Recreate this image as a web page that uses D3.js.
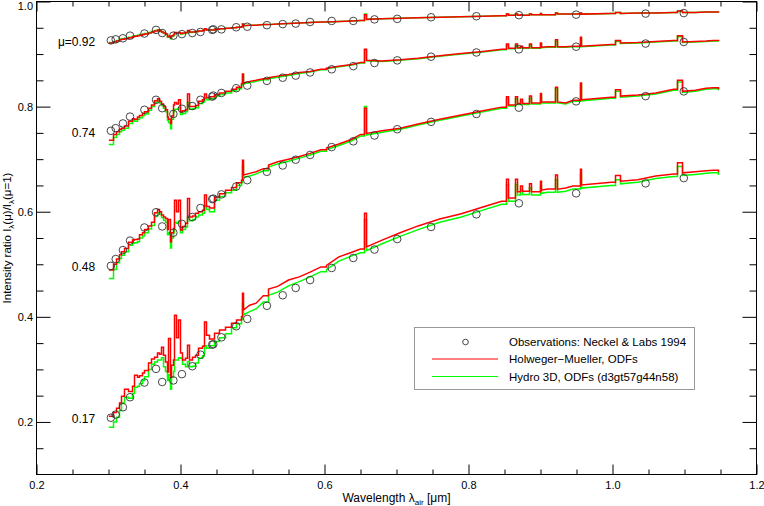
<!DOCTYPE html>
<html><head><meta charset="utf-8">
<script src="https://cdn.jsdelivr.net/npm/d3@7/dist/d3.min.js"></script>
<style>
body{margin:0;background:#fff;}
svg{display:block;font-family:"Liberation Sans",Arial,Helvetica,sans-serif;}
</style></head>
<body><svg id="chart" width="764" height="506"></svg>
<script>
// ---------- data ----------
const lambdaGrid = [0.3005,0.306,0.310,0.314,0.318,0.322,0.327,0.332,0.336,0.339,
0.342,0.346,0.350,0.355,0.359,0.363,0.367,0.3705,0.373,0.3755,
0.378,0.381,0.383,0.385,0.387,0.389,0.3915,0.394,0.3965,0.399,
0.402,0.406,0.4095,0.412,0.416,0.420,0.425,0.430,0.4325,0.435,
0.440,0.446,0.454,0.462,0.470,0.477,0.4835,0.4850,0.4875,0.496,
0.505,0.515,0.522,0.535,0.550,0.565,0.580,0.595,0.602,0.620,
0.638,0.650,0.6553,0.6578,0.680,0.705,0.730,0.760,0.790,0.820,
0.846,0.8525,0.8543,0.8650,0.8668,0.8722,0.8740,0.8847,0.8865,0.8990,
0.9008,0.910,0.9208,0.9226,0.935,0.945,0.9546,0.9564,0.998,1.003,
1.011,1.035,1.060,1.085,1.0895,1.0965,1.115,1.130,1.140,1.147];

const hm092 = [0.921,0.923,0.925,0.927,0.928,0.929,0.931,0.933,0.934,0.935,
0.936,0.937,0.938,0.940,0.942,0.944,0.946,0.944,0.942,0.940,
0.938,0.933,0.934,0.931,0.935,0.937,0.941,0.940,0.941,0.939,
0.940,0.941,0.945,0.942,0.942,0.943,0.944,0.945,0.948,0.946,
0.946,0.947,0.948,0.949,0.950,0.951,0.952,0.957,0.954,0.955,
0.955,0.956,0.956,0.957,0.958,0.959,0.960,0.961,0.961,0.962,
0.963,0.964,0.975,0.966,0.967,0.968,0.969,0.970,0.971,0.972,
0.973,0.976,0.974,0.976,0.974,0.975,0.974,0.976,0.975,0.977,
0.975,0.975,0.978,0.976,0.976,0.976,0.978,0.976,0.977,0.979,
0.977,0.978,0.978,0.979,0.982,0.979,0.979,0.980,0.980,0.979];
const hy092 = [0.922,0.924,0.926,0.928,0.929,0.930,0.932,0.934,0.935,0.936,
0.937,0.938,0.939,0.941,0.943,0.945,0.946,0.944,0.942,0.940,
0.937,0.932,0.932,0.929,0.934,0.936,0.939,0.939,0.940,0.938,
0.939,0.940,0.943,0.941,0.942,0.943,0.944,0.945,0.947,0.946,
0.946,0.947,0.948,0.949,0.950,0.951,0.952,0.957,0.954,0.955,
0.955,0.956,0.956,0.957,0.958,0.959,0.960,0.961,0.961,0.962,
0.963,0.964,0.976,0.966,0.967,0.968,0.969,0.970,0.971,0.972,
0.973,0.976,0.974,0.976,0.974,0.975,0.974,0.976,0.975,0.977,
0.975,0.975,0.978,0.976,0.976,0.976,0.978,0.976,0.977,0.979,
0.977,0.978,0.978,0.979,0.982,0.979,0.979,0.980,0.980,0.979];

const hm074 = [0.736,0.747,0.752,0.757,0.759,0.763,0.772,0.777,0.776,0.780,
0.783,0.787,0.790,0.797,0.803,0.811,0.815,0.810,0.805,0.800,
0.794,0.780,0.776,0.768,0.782,0.803,0.808,0.805,0.813,0.790,
0.792,0.794,0.824,0.800,0.800,0.802,0.810,0.813,0.824,0.817,
0.819,0.823,0.826,0.829,0.833,0.837,0.844,0.862,0.845,0.848,
0.850,0.853,0.855,0.858,0.861,0.865,0.867,0.871,0.873,0.877,
0.880,0.884,0.909,0.888,0.887,0.889,0.892,0.897,0.901,0.905,
0.909,0.919,0.911,0.919,0.912,0.915,0.912,0.919,0.912,0.921,
0.913,0.914,0.927,0.914,0.914,0.915,0.932,0.915,0.918,0.926,
0.921,0.922,0.924,0.926,0.935,0.923,0.924,0.925,0.926,0.925];
const hy074 = [0.728,0.741,0.747,0.752,0.755,0.759,0.768,0.773,0.772,0.776,
0.779,0.783,0.786,0.793,0.800,0.808,0.812,0.807,0.802,0.797,
0.790,0.774,0.770,0.758,0.776,0.790,0.795,0.795,0.798,0.785,
0.787,0.790,0.808,0.795,0.796,0.798,0.806,0.809,0.816,0.813,
0.815,0.820,0.823,0.826,0.830,0.834,0.841,0.860,0.843,0.846,
0.848,0.851,0.853,0.856,0.859,0.863,0.866,0.870,0.872,0.876,
0.879,0.883,0.908,0.887,0.886,0.888,0.891,0.896,0.900,0.904,
0.908,0.917,0.910,0.917,0.911,0.913,0.911,0.917,0.911,0.919,
0.912,0.913,0.925,0.913,0.913,0.914,0.930,0.914,0.917,0.924,
0.920,0.921,0.923,0.925,0.933,0.922,0.923,0.924,0.925,0.924];

const hm048 = [0.489,0.500,0.510,0.518,0.524,0.530,0.542,0.546,0.547,0.548,
0.556,0.560,0.566,0.573,0.580,0.598,0.604,0.600,0.594,0.590,
0.587,0.566,0.585,0.543,0.560,0.568,0.622,0.600,0.622,0.565,
0.572,0.578,0.625,0.590,0.592,0.597,0.600,0.603,0.632,0.610,
0.607,0.628,0.634,0.641,0.646,0.655,0.660,0.698,0.670,0.673,
0.676,0.682,0.689,0.695,0.700,0.705,0.711,0.718,0.721,0.729,
0.738,0.747,0.797,0.749,0.754,0.759,0.767,0.776,0.784,0.792,
0.799,0.819,0.803,0.819,0.806,0.814,0.806,0.820,0.807,0.825,
0.809,0.809,0.837,0.809,0.807,0.812,0.845,0.813,0.818,0.832,
0.820,0.822,0.826,0.833,0.850,0.829,0.831,0.835,0.836,0.833];
const hy048 = [0.473,0.490,0.503,0.511,0.517,0.524,0.536,0.540,0.541,0.543,
0.550,0.554,0.560,0.567,0.574,0.591,0.598,0.595,0.589,0.584,
0.580,0.556,0.560,0.531,0.550,0.560,0.580,0.578,0.582,0.560,
0.566,0.571,0.590,0.583,0.585,0.590,0.594,0.597,0.612,0.604,
0.600,0.622,0.629,0.636,0.641,0.650,0.655,0.688,0.665,0.668,
0.672,0.678,0.685,0.691,0.696,0.702,0.708,0.715,0.718,0.726,
0.735,0.744,0.800,0.746,0.751,0.757,0.765,0.774,0.782,0.790,
0.797,0.815,0.801,0.815,0.804,0.810,0.804,0.816,0.805,0.821,
0.807,0.807,0.834,0.807,0.805,0.810,0.842,0.811,0.816,0.829,
0.818,0.820,0.824,0.831,0.847,0.827,0.829,0.833,0.834,0.831];

const hm017 = [0.211,0.218,0.226,0.236,0.249,0.262,0.258,0.268,0.289,0.285,
0.288,0.293,0.298,0.312,0.320,0.323,0.331,0.329,0.342,0.327,
0.314,0.295,0.359,0.285,0.308,0.318,0.403,0.360,0.394,0.331,
0.318,0.321,0.346,0.318,0.323,0.327,0.340,0.344,0.390,0.365,
0.358,0.369,0.375,0.380,0.388,0.394,0.400,0.445,0.413,0.422,
0.426,0.440,0.453,0.458,0.470,0.476,0.485,0.495,0.498,0.514,
0.523,0.529,0.597,0.533,0.546,0.560,0.573,0.586,0.596,0.609,
0.620,0.662,0.626,0.662,0.638,0.649,0.639,0.653,0.638,0.658,
0.641,0.643,0.670,0.643,0.645,0.649,0.681,0.651,0.656,0.669,
0.658,0.661,0.668,0.672,0.693,0.674,0.676,0.678,0.679,0.675];
const hy017 = [0.190,0.200,0.209,0.222,0.236,0.247,0.245,0.254,0.266,0.268,
0.273,0.279,0.286,0.300,0.310,0.314,0.318,0.318,0.322,0.305,
0.296,0.279,0.290,0.262,0.285,0.296,0.318,0.318,0.322,0.321,
0.310,0.305,0.315,0.305,0.306,0.312,0.321,0.326,0.345,0.340,
0.345,0.353,0.360,0.368,0.379,0.387,0.395,0.425,0.404,0.410,
0.415,0.428,0.441,0.447,0.459,0.467,0.476,0.486,0.490,0.506,
0.516,0.522,0.585,0.526,0.539,0.553,0.566,0.580,0.590,0.603,
0.614,0.652,0.620,0.652,0.632,0.641,0.633,0.645,0.632,0.650,
0.635,0.637,0.661,0.637,0.639,0.643,0.672,0.645,0.650,0.661,
0.653,0.656,0.663,0.667,0.686,0.669,0.671,0.673,0.674,0.670];

const obsLambda = [0.3033,0.3100,0.3200,0.3299,0.3499,0.3660,0.3746,0.3901,0.4020,0.4164,
0.4277,0.4440,0.4456,0.4568,0.4774,0.4927,0.5200,0.5420,0.5600,0.5800,
0.6100,0.6400,0.6694,0.7010,0.7480,0.8110,0.8700,0.9495,1.0460,1.0990];
const obs092 = [0.926,0.928,0.930,0.935,0.939,0.946,0.940,0.935,0.938,0.940,
0.942,0.946,0.947,0.947,0.951,0.952,0.955,0.957,0.958,0.961,
0.963,0.963,0.966,0.967,0.970,0.972,0.974,0.975,0.977,0.978];
const obs074 = [0.754,0.759,0.768,0.781,0.794,0.813,0.797,0.786,0.796,0.801,
0.813,0.819,0.821,0.826,0.835,0.840,0.849,0.855,0.859,0.865,
0.871,0.877,0.883,0.888,0.895,0.903,0.909,0.914,0.920,0.923];
const obs048 = [0.497,0.510,0.527,0.545,0.570,0.599,0.572,0.560,0.577,0.590,
0.607,0.624,0.625,0.633,0.648,0.660,0.676,0.688,0.699,0.708,
0.723,0.734,0.745,0.757,0.771,0.786,0.798,0.810,0.820,0.829];
const obs017 = [0.208,0.214,0.228,0.247,0.275,0.301,0.276,0.279,0.291,0.306,
0.328,0.347,0.348,0.361,0.382,0.396,0.421,0.441,0.455,0.470,
0.493,0.512,0.528,0.548,0.571,0.595,0.616,0.635,0.654,0.664];

const muLabels = ["\u03bc=0.92","0.74","0.48","0.17"];
const muLabelValues = [0.922,0.749,0.494,0.205];
const muLabelLambda = 0.2815;

const xTickValues = [0.2,0.4,0.6,0.8,1.0,1.2];
const xTickLabels = ["0.2","0.4","0.6","0.8","1.0","1.2"];
const yTickValues = [0.2,0.4,0.6,0.8,1.0];
const yTickLabels = ["0.2","0.4","0.6","0.8","1.0"];
const legendLabels = ["Observations: Neckel & Labs 1994","Holweger\u2212Mueller, ODFs","Hydro 3D, ODFs (d3gt57g44n58)"];

// ---------- chart ----------
const svg = d3.select("#chart");
const L = 36.5, R = 756.5, T = 1.5, B = 474.5;
const x = d3.scaleLinear().domain([0.2,1.2]).range([L,R]);
const y = d3.scaleLinear().domain([0.1,1.0]).range([B,T]);

const RED = "#ff0000", GREEN = "#00ff00";

// ODF curve: narrow bins (features) drawn as steps, broad continuum joined linearly
function odfPath(lams, vals){
  const p = d3.path();
  const n = lams.length;
  p.moveTo(x(lams[0]), y(vals[0]));
  for (let i = 0; i < n-1; i++){
    const w = lams[i+1]-lams[i];
    const wn = i+2 < n ? lams[i+2]-lams[i+1] : 1;
    if (w <= 0.0085 || wn <= 0.0035){
      const xs = Math.round(x(lams[i+1])) + 0.5;
      p.lineTo(xs, y(vals[i]));
      p.lineTo(xs, y(vals[i+1]));
    } else {
      p.lineTo(x(lams[i+1]), y(vals[i+1]));
    }
  }
  return p.toString();
}

const pairs = [[hm092,hy092],[hm074,hy074],[hm048,hy048],[hm017,hy017]];
const obsSets = [obs092,obs074,obs048,obs017];

const gCurves = svg.append("g");
pairs.forEach(([hm,hy]) => {
  gCurves.append("path").attr("d", odfPath(lambdaGrid, hy))
    .attr("fill","none").attr("stroke",GREEN).attr("stroke-width",1.5).attr("stroke-linejoin","miter");
  gCurves.append("path").attr("d", odfPath(lambdaGrid, hm))
    .attr("fill","none").attr("stroke",RED).attr("stroke-width",1.5).attr("stroke-linejoin","miter");
});

const gObs = svg.append("g");
obsSets.forEach(vals => {
  gObs.selectAll(null).data(obsLambda.map((l,i)=>[l,vals[i]])).enter()
    .append("circle").attr("cx",d=>x(d[0])).attr("cy",d=>y(d[1])).attr("r",3.8)
    .attr("fill","none").attr("stroke","#333").attr("stroke-width",0.9);
});

// mu labels
svg.append("g").selectAll("text").data(muLabels).enter().append("text")
  .attr("x", x(muLabelLambda)).attr("y",(d,i)=>y(muLabelValues[i]))
  .attr("text-anchor","end").attr("dominant-baseline","central")
  .attr("font-size",12).text(d=>d);

// axes (inward ticks)
const minorX = d3.range(0.25,1.2,0.05).filter(v=>Math.abs(v*5-Math.round(v*5))>1e-6);
const minorY = d3.range(0.15,1.0,0.05).filter(v=>Math.abs(v*5-Math.round(v*5))>1e-6);

function styleAxis(g){ g.select(".domain").remove(); g.selectAll("line").attr("stroke","#000").attr("stroke-width",1); g.selectAll("text").attr("fill","#000").attr("font-size",11).attr("font-family","'Liberation Sans',Arial,sans-serif"); }

svg.append("g").attr("transform",`translate(0,${B})`)
  .call(d3.axisBottom(x).tickValues(xTickValues).tickFormat((d,i)=>xTickLabels[i]).tickSize(-10).tickPadding(7)).call(styleAxis);
svg.append("g").attr("transform",`translate(0,${B})`)
  .call(d3.axisBottom(x).tickValues(minorX).tickFormat("").tickSize(-5)).call(styleAxis);
svg.append("g").attr("transform",`translate(0,${T})`)
  .call(d3.axisTop(x).tickValues(xTickValues).tickFormat("").tickSize(-10)).call(styleAxis);
svg.append("g").attr("transform",`translate(0,${T})`)
  .call(d3.axisTop(x).tickValues(minorX).tickFormat("").tickSize(-5)).call(styleAxis);

const yAx = svg.append("g").attr("transform",`translate(${L},0)`)
  .call(d3.axisLeft(y).tickValues(yTickValues).tickFormat((d,i)=>yTickLabels[i]).tickSize(-14).tickPadding(3.5)).call(styleAxis);
yAx.selectAll(".tick text").filter(d=>d===1.0).attr("dy","0.72em");
svg.append("g").attr("transform",`translate(${L},0)`)
  .call(d3.axisLeft(y).tickValues(minorY).tickFormat("").tickSize(-7)).call(styleAxis);
svg.append("g").attr("transform",`translate(${R},0)`)
  .call(d3.axisRight(y).tickValues(yTickValues).tickFormat("").tickSize(-14)).call(styleAxis);
svg.append("g").attr("transform",`translate(${R},0)`)
  .call(d3.axisRight(y).tickValues(minorY).tickFormat("").tickSize(-7)).call(styleAxis);

svg.append("rect").attr("x",L).attr("y",T).attr("width",R-L).attr("height",B-T)
  .attr("fill","none").attr("stroke","#000").attr("stroke-width",1);

// axis titles
const xt = svg.append("text").attr("x",(L+R)/2).attr("y",502).attr("text-anchor","middle").attr("font-size",12);
xt.append("tspan").text("Wavelength \u03bb");
xt.append("tspan").attr("font-size",8).attr("dy",3).text("air");
xt.append("tspan").attr("dy",-3).text(" [\u03bcm]");

const yt = svg.append("text").attr("transform",`translate(10.5,${(T+B)/2}) rotate(-90)`).attr("text-anchor","middle").attr("font-size",11.5);
yt.append("tspan").text("Intensity ratio I");
yt.append("tspan").attr("font-size",8).attr("dy",3).text("\u03bb");
yt.append("tspan").attr("dy",-3).text("(\u03bc)/I");
yt.append("tspan").attr("font-size",8).attr("dy",3).text("\u03bb");
yt.append("tspan").attr("dy",-3).text("(\u03bc=1)");

// legend
const lg = svg.append("g");
lg.append("rect").attr("x",414.5).attr("y",327.5).attr("width",280).attr("height",62)
  .attr("fill","#fff").attr("stroke","#999").attr("stroke-width",1);
lg.append("circle").attr("cx",465.5).attr("cy",342).attr("r",2.8).attr("fill","none").attr("stroke","#333").attr("stroke-width",0.9);
lg.append("line").attr("x1",432).attr("x2",498).attr("y1",359).attr("y2",359).attr("stroke",RED).attr("stroke-width",1);
lg.append("line").attr("x1",432).attr("x2",498).attr("y1",376.5).attr("y2",376.5).attr("stroke",GREEN).attr("stroke-width",1);
lg.selectAll("text.lt").data(legendLabels).enter().append("text").attr("class","lt")
  .attr("x",509).attr("y",(d,i)=>[342,359,376.5][i]).attr("dominant-baseline","central")
  .attr("font-size",11.5).text(d=>d);
</script></body></html>
